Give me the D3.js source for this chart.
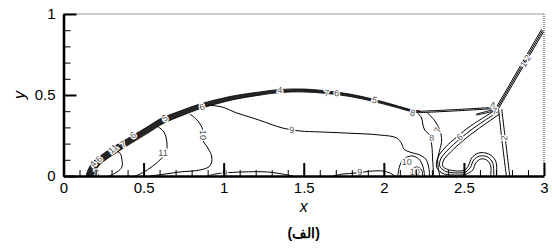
<!DOCTYPE html>
<html>
<head>
<meta charset="utf-8">
<script src="https://cdn.jsdelivr.net/npm/d3@7"></script>
<style>
  body { margin: 0; background: #fff; }
  text { font-family: "Liberation Sans", Arial, sans-serif; }
</style>
</head>
<body>
<svg id="chart" width="552" height="249"></svg>
<script>
// tick labels
var xTicks = [0, 0.5, 1, 1.5, 2, 2.5, 3];
var yTicks = [0, 0.5, 1];

// bow shock: outer and inner edge of the packed contour band (x, y)
var shockOuter = [[0.140,0],[0.153,0.037],[0.184,0.086],[0.246,0.136],[0.321,0.185],[0.427,0.247],[0.521,0.302],[0.602,0.352],[0.727,0.401],[0.851,0.444],[1.057,0.494],[1.226,0.519],[1.351,0.534],[1.500,0.537],[1.644,0.525],[1.787,0.506],[1.931,0.475],[2.068,0.438],[2.180,0.407],[2.224,0.401]];
var shockInner = [[0.188,0],[0.198,0.030],[0.225,0.068],[0.282,0.113],[0.352,0.158],[0.452,0.220],[0.542,0.274],[0.622,0.324],[0.742,0.374],[0.862,0.418],[1.060,0.471],[1.226,0.499],[1.351,0.515],[1.500,0.519],[1.644,0.509],[1.787,0.491],[1.931,0.461],[2.068,0.426],[2.180,0.396],[2.224,0.393]];

// lines to the triple point
var triple1 = [[2.218,0.399],[2.45,0.410],[2.690,0.424]];
var triple2 = [[2.224,0.391],[2.45,0.402],[2.690,0.416]];
var sliver = [[2.58,0.383],[2.69,0.411],[2.69,0.401],[2.58,0.376],[2.58,0.383]];

// reflected shock
var refl1 = [[2.700,0.420],[2.985,0.905]];
var refl2 = [[2.708,0.418],[2.991,0.898]];
var refl3 = [[2.716,0.416],[2.997,0.891]];

// Mach stem
var stem1 = [[2.716,0.412],[2.740,0.200],[2.765,0]];
var stem2 = [[2.736,0.412],[2.762,0.200],[2.786,0]];

// roll-up contours
var roll1 = [[2.698,0.407],[2.542,0.309],[2.455,0.241],[2.380,0.173],[2.336,0.111],[2.330,0.056],[2.361,0.019],[2.442,0.006],[2.517,0.012],[2.555,0.037],[2.574,0.080],[2.605,0.105],[2.642,0.099],[2.667,0.062],[2.667,0]];
var roll2 = [[2.711,0.395],[2.561,0.296],[2.474,0.228],[2.399,0.160],[2.355,0.105],[2.349,0.062],[2.380,0.031],[2.449,0.019],[2.511,0.025],[2.542,0.056],[2.561,0.099],[2.598,0.123],[2.648,0.117],[2.680,0.080],[2.686,0]];
var roll3 = [[2.723,0.383],[2.580,0.284],[2.492,0.216],[2.417,0.148],[2.374,0.099],[2.367,0.062],[2.392,0.043],[2.455,0.031],[2.505,0.037],[2.530,0.068],[2.548,0.111],[2.592,0.142],[2.654,0.136],[2.698,0.093],[2.704,0]];

// interior contours
var c11a = [[0.309,0.160],[0.352,0.142],[0.365,0.099],[0.365,0.056],[0.334,0.025],[0.285,0]];
var c11b = [[0.583,0.309],[0.627,0.272],[0.646,0.204],[0.640,0.148],[0.602,0.099],[0.540,0.049],[0.477,0.012],[0.446,0]];
var c10 = [[0.789,0.383],[0.839,0.340],[0.870,0.284],[0.870,0.222],[0.901,0.173],[0.926,0.117],[0.914,0.062],[0.851,0.037],[0.727,0.025],[0.634,0.012],[0.540,0]];
var c9 = [[0.901,0.438],[0.989,0.426],[1.082,0.389],[1.182,0.358],[1.257,0.333],[1.307,0.315],[1.369,0.296],[1.475,0.278],[1.600,0.272],[1.769,0.265],[1.975,0.253],[2.080,0.235],[2.112,0.198],[2.124,0.167],[2.162,0.148],[2.224,0.130],[2.261,0.105],[2.280,0.056],[2.286,0]];
var c10r = [[2.087,0],[2.099,0.062],[2.124,0.105],[2.174,0.124],[2.218,0.105],[2.243,0.062],[2.255,0]];
var c10s = [[2.162,0],[2.174,0.037],[2.205,0.056],[2.236,0.037],[2.243,0]];
var c8 = [[2.211,0.389],[2.236,0.358],[2.243,0.321],[2.255,0.284],[2.286,0.253],[2.299,0.191],[2.305,0.099],[2.311,0]];
var c7 = [[2.274,0.389],[2.318,0.340],[2.349,0.284],[2.361,0.222],[2.349,0.160],[2.336,0.099],[2.349,0]];
var c9b1 = [[0.901,0],[0.945,0.012],[1.007,0.019],[1.120,0.025],[1.269,0.025],[1.369,0.012],[1.432,0]];
var c9b2 = [[1.681,0],[1.744,0.012],[1.831,0.019],[1.931,0.031],[1.993,0.031],[2.037,0.019],[2.068,0]];
var c7s = [[0.190,0],[0.200,0.020],[0.215,0.014],[0.222,0]];

// contour labels: text, x, y, angle
var labelText = ['4','6','11','7','6','5','6','4','7','6','5','8','11','10','9','9','9','10','10','8','7','6','4','7','2','1','2','7'];
var labelX = [0.184,0.221,0.309,0.371,0.434,0.634,0.864,1.351,1.644,1.706,1.943,2.180,0.621,0.870,1.425,1.007,1.850,2.143,2.193,2.299,2.336,2.474,2.680,2.692,2.750,2.872,2.897,0.205];
var labelY = [0.074,0.105,0.167,0.198,0.253,0.358,0.426,0.531,0.512,0.512,0.469,0.389,0.142,0.253,0.284,0.019,0.025,0.086,0.025,0.235,0.284,0.241,0.438,0.401,0.235,0.690,0.730,0.018];
var labelAngle = [-55,-50,-40,-35,-32,-25,-17,-3,4,4,12,12,0,90,0,0,0,0,0,0,-70,-40,0,0,-85,-60,-60,0];

var svg = d3.select('#chart');
var x = d3.scaleLinear().domain([0, 3]).range([63.5, 544]);
var y = d3.scaleLinear().domain([0, 1]).range([176, 14]);

var line = d3.line()
  .x(function (d) { return x(d[0]); })
  .y(function (d) { return y(d[1]); })
  .curve(d3.curveCatmullRom);
var straight = d3.line()
  .x(function (d) { return x(d[0]); })
  .y(function (d) { return y(d[1]); });

/* frame: top and right */
svg.append('line')
  .attr('x1', x(0)).attr('x2', x(3))
  .attr('y1', y(1)).attr('y2', y(1))
  .attr('stroke', '#999').attr('stroke-width', 1);
svg.append('line')
  .attr('x1', x(3)).attr('x2', x(3))
  .attr('y1', y(1)).attr('y2', y(0))
  .attr('stroke', '#333').attr('stroke-width', 1)
  .attr('stroke-dasharray', '1,1');

svg.append('clipPath').attr('id', 'clip')
  .append('rect')
  .attr('x', x(0)).attr('y', y(1))
  .attr('width', x(3) - x(0)).attr('height', y(0) - y(1));

var plot = svg.append('g').attr('clip-path', 'url(#clip)');

/* bow shock band */
plot.append('path')
  .attr('d', line(shockOuter.concat(shockInner.slice().reverse())) + 'Z')
  .attr('fill', '#262626')
  .attr('stroke', '#000')
  .attr('stroke-width', 0.8);

var lines = [triple1, triple2, refl1, refl2, refl3, stem1, stem2,
  roll1, roll2, roll3, c11a, c11b, c10, c9, c10r, c10s, c8, c7, c9b1, c9b2, c7s];

plot.selectAll('path.contour')
  .data(lines)
  .join('path')
  .classed('contour', true)
  .attr('d', function (d) { return d.length > 2 ? line(d) : straight(d); })
  .attr('fill', 'none')
  .attr('stroke', '#000')
  .attr('stroke-width', 1);

plot.append('path')
  .attr('d', straight(sliver))
  .attr('fill', 'none')
  .attr('stroke', '#000')
  .attr('stroke-width', 0.9);

/* contour labels */
plot.selectAll('text.clabel')
  .data(labelText)
  .join('text')
  .classed('clabel', true)
  .attr('transform', function (d, i) {
    return 'translate(' + x(labelX[i]) + ',' + y(labelY[i]) + ') rotate(' + labelAngle[i] + ')';
  })
  .attr('text-anchor', 'middle')
  .attr('dy', '0.35em')
  .attr('font-size', 9)
  .attr('fill', '#505050')
  .attr('stroke', '#fff')
  .attr('stroke-width', 2.5)
  .attr('paint-order', 'stroke')
  .style('text-rendering', 'geometricPrecision')
  .text(function (d) { return d; });

/* axes */
var xMinor = svg.append('g').attr('transform', 'translate(0,' + y(0) + ')')
  .call(d3.axisBottom(x).tickValues(d3.range(0, 3.001, 0.1)).tickSizeInner(-6).tickSizeOuter(0).tickFormat(''));
xMinor.select('.domain').remove();
xMinor.selectAll('line').attr('stroke-width', 1);

var yMinor = svg.append('g').attr('transform', 'translate(' + x(0) + ',0)')
  .call(d3.axisLeft(y).tickValues(d3.range(0, 1.001, 0.1)).tickSizeInner(-7).tickSizeOuter(0).tickFormat(''));
yMinor.select('.domain').remove();
yMinor.selectAll('line').attr('stroke-width', 1);

var xAxis = svg.append('g').attr('transform', 'translate(0,' + y(0) + ')')
  .call(d3.axisBottom(x).tickValues(xTicks).tickSizeInner(-13).tickSizeOuter(0).tickPadding(6).tickFormat(d3.format('')));
var yAxis = svg.append('g').attr('transform', 'translate(' + x(0) + ',0)')
  .call(d3.axisLeft(y).tickValues(yTicks).tickSizeInner(-13).tickSizeOuter(0).tickPadding(8).tickFormat(d3.format('')));

[xAxis, yAxis].forEach(function (g) {
  g.select('.domain').attr('stroke-width', 2.6);
  g.selectAll('.tick line').attr('stroke-width', 2);
  g.selectAll('.tick text')
    .attr('font-size', 15)
    .attr('font-family', '"Liberation Sans", Arial, sans-serif')
    .attr('fill', '#000');
});

/* axis titles */
svg.append('text')
  .attr('x', x(1.5)).attr('y', 212)
  .attr('text-anchor', 'middle')
  .attr('font-family', '"Liberation Serif", "Times New Roman", serif')
  .attr('font-style', 'italic')
  .attr('font-size', 16)
  .text('x');
svg.append('text')
  .attr('transform', 'translate(25,' + y(0.5) + ') rotate(-90)')
  .attr('text-anchor', 'middle')
  .attr('font-family', '"Liberation Serif", "Times New Roman", serif')
  .attr('font-style', 'italic')
  .attr('font-size', 16)
  .text('y');
svg.append('text')
  .attr('x', x(1.5)).attr('y', 238)
  .attr('text-anchor', 'middle')
  .attr('font-family', '"DejaVu Sans", "Noto Sans", sans-serif')
  .attr('font-weight', 'bold')
  .attr('font-size', 14)
  .text('(الف)');
</script>
</body>
</html>
